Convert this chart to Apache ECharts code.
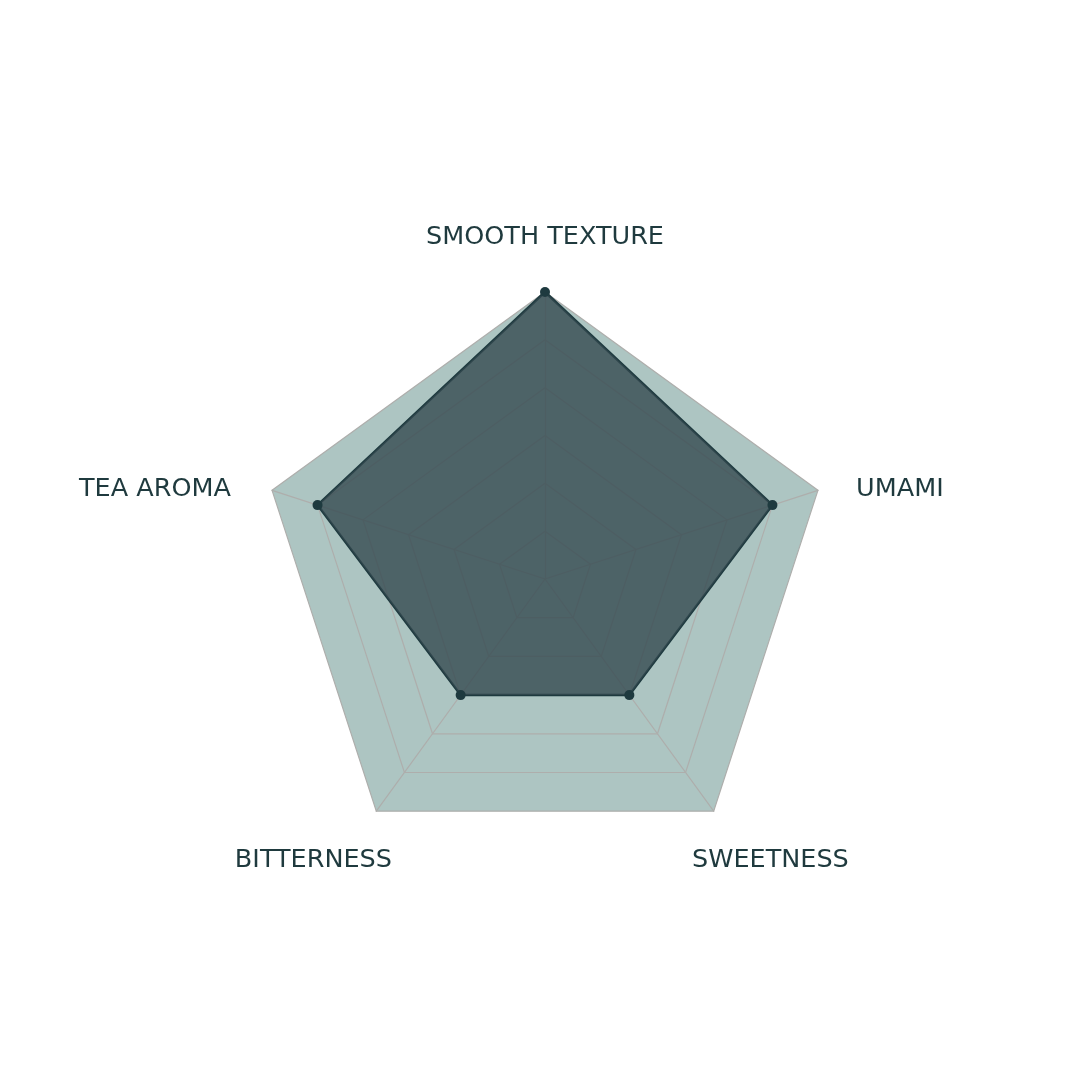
<!DOCTYPE html>
<html>
<head>
<meta charset="utf-8">
<script src="https://cdn.jsdelivr.net/npm/echarts@6/dist/echarts.min.js"></script>
<style>
html,body{margin:0;padding:0;background:#fff;}
#main{width:1080px;height:1080px;}
</style>
</head>
<body>
<div id="main"></div>
<script>
const indicatorNames = ['SMOOTH TEXTURE', 'TEA AROMA', 'BITTERNESS', 'SWEETNESS', 'UMAMI'];
const indicatorMax = [6, 6, 6, 6, 6];
const profileValues = [6, 5, 3, 3, 5];
const labelStyleKeys = ['top', 'left', 'bl', 'br', 'right'];

const chart = echarts.init(document.getElementById('main'), null, {renderer: 'canvas'});
const labelFont = {fontFamily: 'DejaVu Sans', fontSize: 25.5, color: '#1f3a3e'};
chart.setOption({
  backgroundColor: '#ffffff',
  animation: false,
  radar: {
    center: [545, 579],
    radius: 287,
    startAngle: 90,
    splitNumber: 6,
    shape: 'polygon',
    nameGap: 38,
    indicator: indicatorNames.map((n, i) => ({name: n, max: indicatorMax[i], min: 0})),
    axisName: {
      formatter: function (name) {
        const i = indicatorNames.indexOf(name);
        return '{' + labelStyleKeys[i] + '|' + name + '}';
      },
      rich: {
        top: Object.assign({}, labelFont, {padding: [0, 0, 4, 0]}),
        right: Object.assign({}, labelFont, {padding: [22, 0, 0, 2]}),
        left: Object.assign({}, labelFont, {padding: [22, 5, 0, 0]}),
        bl: Object.assign({}, labelFont, {padding: [36, -38, 0, 0]}),
        br: Object.assign({}, labelFont, {padding: [36, 0, 0, -44]})
      }
    },
    splitArea: {show: true, areaStyle: {color: ['#adc5c2'], opacity: 1}},
    splitLine: {lineStyle: {color: '#aeaeac', width: 1.2}},
    axisLine: {lineStyle: {color: '#aeaeac', width: 1.2}},
    axisTick: {show: false},
    axisLabel: {show: false}
  },
  series: [{
    type: 'radar',
    symbol: 'circle',
    symbolSize: 10,
    data: [{
      value: profileValues,
      name: 'Profile'
    }],
    lineStyle: {color: '#1e3a3f', width: 2.5},
    itemStyle: {color: '#1e3a3f'},
    areaStyle: {color: '#344a50', opacity: 0.8}
  }]
});
</script>
</body>
</html>
